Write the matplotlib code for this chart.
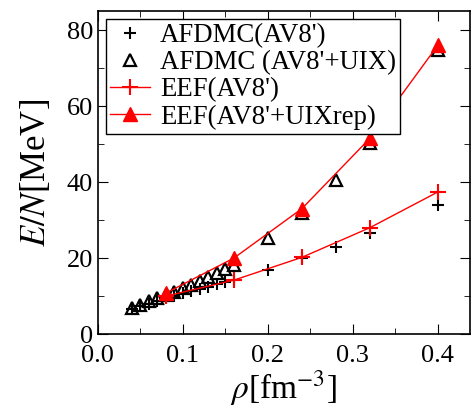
import matplotlib
matplotlib.use("Agg")
import matplotlib.pyplot as plt
from matplotlib.ticker import MultipleLocator

plt.rcParams["font.family"] = ["Liberation Serif", "DejaVu Serif"]
plt.rcParams["mathtext.fontset"] = "stix"

# AFDMC densities and energies
rho_afdmc = [0.04, 0.05, 0.06, 0.07, 0.08, 0.09, 0.10, 0.11, 0.12, 0.13, 0.14, 0.15, 0.16,
             0.20, 0.24, 0.28, 0.32, 0.40]
e_afdmc_av8 = [6.5, 7.3, 8.0, 8.7, 9.4, 10.0, 10.7, 11.3, 11.9, 12.5, 13.1, 13.6, 14.2,
               17.0, 20.0, 23.0, 26.5, 34.0]
e_afdmc_uix = [6.8, 7.7, 8.6, 9.4, 10.3, 11.2, 12.1, 13.0, 14.0, 15.0, 16.1, 17.2, 18.3,
               25.2, 32.0, 40.5, 50.3, 74.7]

# EEF results
rho_eef = [0.08, 0.16, 0.24, 0.32, 0.40]
e_eef_av8 = [10.0, 14.2, 20.2, 28.0, 37.4]
e_eef_uix = [10.8, 20.0, 33.0, 51.5, 76.0]

fig = plt.figure(figsize=(4.75, 4.09), dpi=100)
ax = fig.add_axes([0.206, 0.183, 0.783, 0.790])

ax.plot(rho_afdmc, e_afdmc_av8, "k+", ls="none", ms=9, mew=1.5, label="AFDMC(AV8')")
ax.plot(rho_afdmc, e_afdmc_uix, "^", ls="none", ms=8, mfc="none", mec="k", mew=1.6,
        label="AFDMC (AV8'+UIX)")
ax.plot(rho_eef, e_eef_av8, "r+-", lw=1, ms=11, mew=1.5, label="EEF(AV8')")
ax.plot(rho_eef, e_eef_uix, "r^-", lw=1, ms=10, label="EEF(AV8'+UIXrep)")

ax.set_xlim(0, 0.4376)
ax.set_ylim(0, 85)
ax.xaxis.set_major_locator(MultipleLocator(0.1))
ax.xaxis.set_minor_locator(MultipleLocator(0.05))
ax.yaxis.set_major_locator(MultipleLocator(20))
ax.yaxis.set_minor_locator(MultipleLocator(10))
ax.xaxis.set_major_formatter(plt.FormatStrFormatter("%.1f"))
ax.tick_params(which="both", direction="in", top=True, right=True, labelsize=19)
ax.tick_params(which="major", length=7)
ax.tick_params(which="minor", length=4)
ax.tick_params(axis="x", pad=8)
for s in ax.spines.values():
    s.set_linewidth(1.2)

ax.set_xlabel(r"$\rho$[fm$^{-3}$]", fontsize=24, labelpad=1)
ax.set_ylabel(r"$E/N$[MeV]", fontsize=25, labelpad=10)

leg = ax.legend(loc="upper left", fontsize=19.3, frameon=True, fancybox=False,
                edgecolor="k", framealpha=1, borderpad=0.15, labelspacing=0.08,
                handlelength=1.5, handletextpad=0.37, borderaxespad=0.3)
leg.get_frame().set_linewidth(1.0)

fig.savefig("out.png", dpi=100)
